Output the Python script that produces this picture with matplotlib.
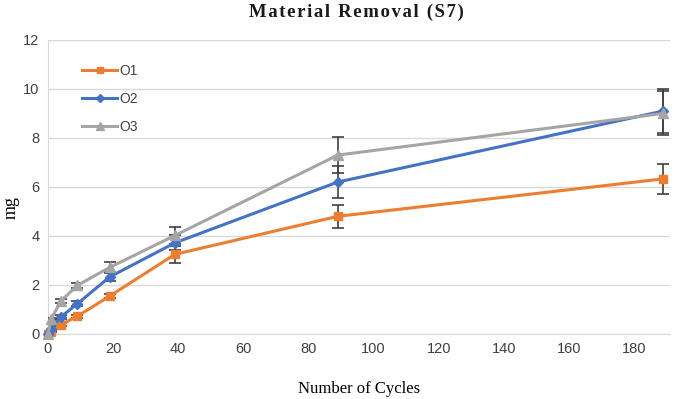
import matplotlib
matplotlib.use("Agg")
import matplotlib.pyplot as plt
from matplotlib.lines import Line2D

cycles = [0, 1, 4, 9, 19, 39, 89, 189]
o1 = [0.0, 0.1, 0.38, 0.72, 1.55, 3.25, 4.8, 6.33]
o2 = [0.0, 0.22, 0.7, 1.23, 2.33, 3.72, 6.2, 9.1]
o3 = [0.0, 0.62, 1.35, 1.98, 2.72, 4.02, 7.3, 9.0]
o1_err = [0.0, 0.02, 0.05, 0.05, 0.08, 0.35, 0.47, 0.6]
o2_err = [0.0, 0.05, 0.08, 0.1, 0.15, 0.3, 0.65, 0.9]
o3_err = [0.0, 0.05, 0.08, 0.1, 0.2, 0.35, 0.75, 0.9]
xticks = list(range(0, 181, 20))
yticks = list(range(0, 13, 2))

fig = plt.figure(figsize=(6.85, 3.99), dpi=100)
ax = fig.add_axes([0.070, 0.163, 0.908, 0.737])

series = [
    ("O1", o1, o1_err, "#ED7D31", "s", 6),
    ("O2", o2, o2_err, "#4472C4", "D", 5),
    ("O3", o3, o3_err, "#A5A5A5", "^", 7),
]
handles = []
for name, ys, err, col, mk, ms in series:
    c = ax.errorbar(cycles, ys, yerr=err, color=col, marker=mk, markersize=ms,
                    linewidth=2.2, ecolor="#404040", elinewidth=1.2, capsize=4,
                    capthick=1.2, zorder=3)
    for art in c.lines[0:1]:
        art.set_clip_on(False)
    handles.append(Line2D([], [], color=col, marker=mk, markersize=ms - 1,
                          linewidth=2.2, label=name))

ax.set_xlim(0, 191)
ax.set_ylim(0, 12)
ax.set_xticks(xticks)
ax.set_yticks(yticks)
ax.grid(axis="y", color="#D9D9D9", linewidth=1)
ax.set_axisbelow(True)
for s in ["top", "right"]:
    ax.spines[s].set_visible(False)
for s in ["left", "bottom"]:
    ax.spines[s].set_color("#D9D9D9")
ax.tick_params(length=0, labelsize=10.5, colors="#404040", pad=6)
for lbl in ax.get_xticklabels() + ax.get_yticklabels():
    lbl.set_family("Liberation Sans")

ax.set_xlabel("Number of Cycles", family="Liberation Serif", fontsize=12, labelpad=18)
fig.text(0.016, 0.48, "mg", family="Liberation Serif", fontsize=13,
         rotation=90, ha="center", va="center")
title = "\u200a".join("Material Removal (S7)")
fig.text(0.52, 0.97, title, family="Liberation Serif",
         fontweight="bold", fontsize=13.5, ha="center", va="center", color="#1a1a1a")

leg = ax.legend(handles=handles, loc="upper left", bbox_to_anchor=(0.035, 0.96),
                frameon=False, fontsize=10, handlelength=2.5, labelspacing=1.0,
                handletextpad=0.2)
for t in leg.get_texts():
    t.set_family("Liberation Sans")
    t.set_color("#404040")

fig.savefig("out.png", dpi=100)
